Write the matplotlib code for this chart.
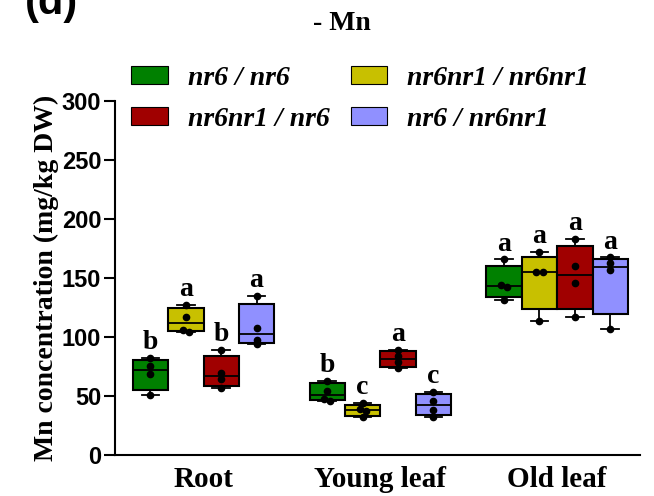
import numpy as np
import matplotlib
matplotlib.use('agg')
import matplotlib.pyplot as plt
from matplotlib.patches import Patch

tissues = ["Root", "Young leaf", "Old leaf"]
genotypes = ["nr6 / nr6", "nr6nr1 / nr6nr1", "nr6nr1 / nr6", "nr6 / nr6nr1"]
colors = ["#008000", "#c8c000", "#a00000", "#9090ff"]

# individual measurements (mg/kg DW), one list per genotype, per tissue
root = [[82.0, 75.4, 68.6, 50.8],
        [127.4, 116.9, 106.2, 104.2],
        [88.7, 69.2, 64.4, 56.8],
        [134.7, 107.9, 97.2, 93.8]]
young = [[63.0, 54.2, 47.5, 45.8],
         [43.8, 39.3, 37.6, 31.9],
         [89.0, 84.2, 78.8, 73.4],
         [53.1, 45.8, 38.1, 32.5]]
old = [[165.8, 144.1, 142.1, 131.6],
       [172.0, 155.3, 154.8, 113.8],
       [183.0, 159.9, 145.5, 117.0],
       [167.5, 162.4, 156.5, 106.8]]
letters = [["b", "a", "b", "a"],
           ["b", "c", "a", "c"],
           ["a", "a", "a", "a"]]

data = [root, young, old]

serif = "Liberation Serif"
sans = "Liberation Sans"

fig = plt.figure(figsize=(6.54, 4.96), dpi=100)
ax = fig.add_axes([0.176, 0.083, 0.803, 0.713])

offsets = [-0.3, -0.1, 0.1, 0.3]
width = 0.2

for gi, group in enumerate(data):
    for k, vals in enumerate(group):
        v = np.array(vals)
        pos = gi + offsets[k]
        # Prism-style quartiles
        q1, med, q3 = np.percentile(v, [25, 50, 75], method="weibull")
        stats = [dict(med=med, q1=q1, q3=q3, whislo=v.min(), whishi=v.max(), fliers=[])]
        ax.bxp(stats, positions=[pos], widths=width, patch_artist=True,
               showfliers=False,
               boxprops=dict(facecolor=colors[k], edgecolor="black", linewidth=1.5),
               medianprops=dict(color="black", linewidth=1.3),
               whiskerprops=dict(color="black", linewidth=1.3),
               capprops=dict(color="black", linewidth=1.3),
               capwidths=width * 0.5)
        # dots, nudged sideways when they would overlap
        sv = np.sort(v)[::-1]
        xs = np.full(len(sv), pos)
        i = 0
        while i < len(sv):
            j = i
            while j + 1 < len(sv) and sv[i] - sv[j + 1] < 3.0:
                j += 1
            n = j - i + 1
            if n > 1:
                xs[i:j + 1] = pos + (np.arange(n) - (n - 1) / 2) * 0.035
            i = j + 1
        ax.plot(xs, sv, "o", color="black", ms=4.5, zorder=5)
        ax.annotate(letters[gi][k], (pos, v.max()), xytext=(0, 2),
                    textcoords="offset points", ha="center", va="bottom",
                    fontsize=20, fontweight="bold", family=serif)

ax.set_xlim(-0.5, 2.47)
ax.set_ylim(0, 300)
ax.set_yticks(np.arange(0, 301, 50))
ax.set_xticks(range(3))
ax.set_xticklabels(tissues, fontsize=21, fontweight="bold", family=serif)
ax.tick_params(axis="x", length=0, pad=8)
ax.tick_params(axis="y", length=8, width=1.5, labelsize=17, pad=2)
for lab in ax.get_yticklabels():
    lab.set_fontweight("bold")
    lab.set_family(sans)
for s in ["top", "right"]:
    ax.spines[s].set_visible(False)
ax.spines["left"].set_linewidth(1.5)
ax.spines["bottom"].set_linewidth(1.5)

ax.set_ylabel("Mn concentration (mg/kg DW)", fontsize=20, fontweight="bold",
              family=serif, labelpad=2)

fig.text(342 / 654, 1 - 24 / 496, "- Mn", ha="center", va="center",
         fontsize=20, fontweight="bold", family=serif)
fig.text(25 / 654, 1 - 14 / 496, "(d)", ha="left", va="baseline",
         fontsize=30, fontweight="bold", family=sans)

order = [0, 2, 1, 3]
handles = [Patch(facecolor=colors[i], edgecolor="black", linewidth=0.8) for i in order]
labels = [genotypes[i] for i in order]
fig.legend(handles, labels, ncol=2, loc="upper left",
           bbox_to_anchor=(131 / 654, 1 - 66 / 496), frameon=False,
           borderpad=0, borderaxespad=0, handlelength=1.33, handleheight=0.63,
           handletextpad=0.72, columnspacing=0.75, labelspacing=0.57,
           prop=dict(family=serif, weight="bold", style="italic", size=20))

fig.savefig("out.png", dpi=100)
